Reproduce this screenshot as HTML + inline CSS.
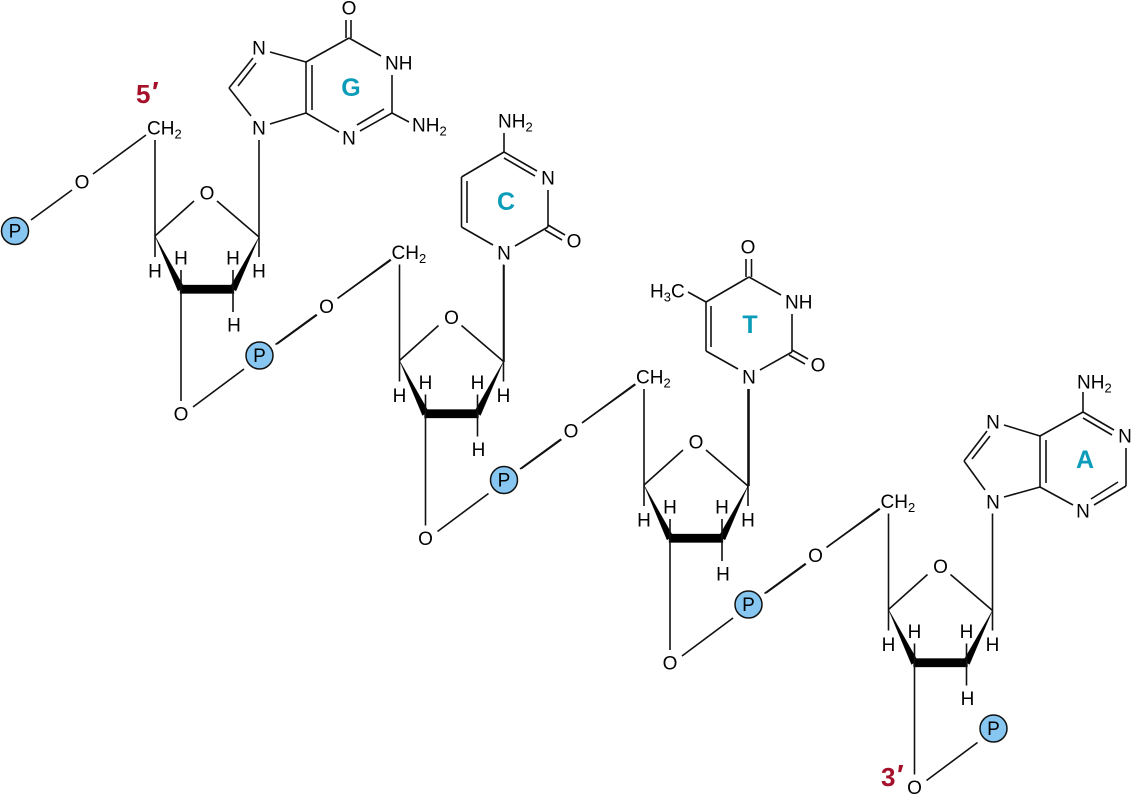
<!DOCTYPE html>
<html><head><meta charset="utf-8"><style>
html,body{margin:0;padding:0;background:#fff;width:1132px;height:796px;overflow:hidden}
svg{display:block}
text{font-family:"Liberation Sans",sans-serif;font-size:19px;fill:#000;text-anchor:middle;transform:translate(0,.6px)}
.s{font-size:13px}
.l{text-anchor:start}
.b{font-weight:bold;font-size:25px;fill:#0a9cb8;transform:none}
.r{font-weight:bold;font-size:26px;fill:#a5102a;transform:none}
line,polyline{stroke:#111;stroke-width:1.6;fill:none}
.w{fill:#000;stroke:#000;stroke-width:.3}
circle{fill:#86c6f0;stroke:#111;stroke-width:1.5}
</style></head><body>
<svg width="1132" height="796" viewBox="0 0 1132 796" xmlns="http://www.w3.org/2000/svg">

<g id="u1">
<line x1="31" y1="220" x2="72" y2="190"/><line x1="93" y1="174" x2="146" y2="135"/>
<line x1="155" y1="140" x2="155" y2="257"/><line x1="155" y1="236" x2="194" y2="201"/><line x1="217" y1="201" x2="259" y2="237"/>
<line x1="259" y1="140" x2="259" y2="257"/>
<polygon class="w" points="155,236 178,291 184,287"/><polygon class="w" points="259,237 230,287 236,291"/>
<rect class="w" x="180" y="285" width="54" height="8.5"/>
<line x1="181" y1="270" x2="181" y2="401"/><line x1="233" y1="270" x2="233" y2="312"/>
<line x1="193" y1="407" x2="244" y2="369"/><line x1="277" y1="344" x2="317" y2="315"/>
<line x1="338" y1="298" x2="391" y2="260"/>
<circle cx="15" cy="231" r="13.5"/>
<text x="15" y="237">P</text><text x="82" y="188">O</text>
<text x="147" y="134" class="l">CH<tspan class="s" dy="4">2</tspan></text>
<text x="207" y="199">O</text>
<text x="155" y="277">H</text><text x="181" y="264">H</text><text x="233" y="264">H</text><text x="259" y="277">H</text><text x="234" y="331">H</text>
<text x="181" y="420">O</text>
</g>

<g id="u2" transform="translate(244.5 124.5)">
<line x1="31" y1="220" x2="72" y2="190"/><line x1="93" y1="174" x2="146" y2="135"/>
<line x1="155" y1="140" x2="155" y2="257"/><line x1="155" y1="236" x2="194" y2="201"/><line x1="217" y1="201" x2="259" y2="237"/>
<line x1="259" y1="140" x2="259" y2="257"/>
<polygon class="w" points="155,236 178,291 184,287"/><polygon class="w" points="259,237 230,287 236,291"/>
<rect class="w" x="180" y="285" width="54" height="8.5"/>
<line x1="181" y1="270" x2="181" y2="401"/><line x1="233" y1="270" x2="233" y2="312"/>
<line x1="193" y1="407" x2="244" y2="369"/><line x1="277" y1="344" x2="317" y2="315"/>
<line x1="338" y1="298" x2="391" y2="260"/>
<circle cx="15" cy="231" r="13.5"/>
<text x="15" y="237">P</text><text x="82" y="188">O</text>
<text x="147" y="134" class="l">CH<tspan class="s" dy="4">2</tspan></text>
<text x="207" y="199">O</text>
<text x="155" y="277">H</text><text x="181" y="264">H</text><text x="233" y="264">H</text><text x="259" y="277">H</text><text x="234" y="331">H</text>
<text x="181" y="420">O</text>
</g>

<g id="u3" transform="translate(489 249)">
<line x1="31" y1="220" x2="72" y2="190"/><line x1="93" y1="174" x2="146" y2="135"/>
<line x1="155" y1="140" x2="155" y2="257"/><line x1="155" y1="236" x2="194" y2="201"/><line x1="217" y1="201" x2="259" y2="237"/>
<line x1="259" y1="140" x2="259" y2="257"/>
<polygon class="w" points="155,236 178,291 184,287"/><polygon class="w" points="259,237 230,287 236,291"/>
<rect class="w" x="180" y="285" width="54" height="8.5"/>
<line x1="181" y1="270" x2="181" y2="401"/><line x1="233" y1="270" x2="233" y2="312"/>
<line x1="193" y1="407" x2="244" y2="369"/><line x1="277" y1="344" x2="317" y2="315"/>
<line x1="338" y1="298" x2="391" y2="260"/>
<circle cx="15" cy="231" r="13.5"/>
<text x="15" y="237">P</text><text x="82" y="188">O</text>
<text x="147" y="134" class="l">CH<tspan class="s" dy="4">2</tspan></text>
<text x="207" y="199">O</text>
<text x="155" y="277">H</text><text x="181" y="264">H</text><text x="233" y="264">H</text><text x="259" y="277">H</text><text x="234" y="331">H</text>
<text x="181" y="420">O</text>
</g>

<g id="u4" transform="translate(733.5 373.5)">
<line x1="31" y1="220" x2="72" y2="190"/><line x1="93" y1="174" x2="146" y2="135"/>
<line x1="155" y1="140" x2="155" y2="257"/><line x1="155" y1="236" x2="194" y2="201"/><line x1="217" y1="201" x2="259" y2="237"/>
<line x1="259" y1="140" x2="259" y2="257"/>
<polygon class="w" points="155,236 178,291 184,287"/><polygon class="w" points="259,237 230,287 236,291"/>
<rect class="w" x="180" y="285" width="54" height="8.5"/>
<line x1="181" y1="270" x2="181" y2="401"/><line x1="233" y1="270" x2="233" y2="312"/>
<line x1="193" y1="407" x2="244" y2="369"/>
<circle cx="15" cy="231" r="13.5"/>
<text x="15" y="237">P</text><text x="82" y="188">O</text>
<text x="147" y="134" class="l">CH<tspan class="s" dy="4">2</tspan></text>
<text x="207" y="199">O</text>
<text x="155" y="277">H</text><text x="181" y="264">H</text><text x="233" y="264">H</text><text x="259" y="277">H</text><text x="234" y="331">H</text>
<text x="181" y="420">O</text>
<circle cx="260" cy="355" r="13.5"/><text x="260" y="361">P</text>
</g>

<!-- Guanine -->
<g>
<line x1="270" y1="124" x2="306" y2="113"/><line x1="306" y1="113" x2="306" y2="62"/><line x1="312" y1="65" x2="312" y2="110"/>
<line x1="306" y1="62" x2="270" y2="52"/><line x1="253" y1="58" x2="229" y2="88"/><line x1="256" y1="63" x2="238" y2="86"/>
<line x1="229" y1="88" x2="251" y2="116"/><line x1="306" y1="62" x2="349" y2="38"/>
<line x1="346" y1="38" x2="346" y2="20"/><line x1="351" y1="38" x2="351" y2="20"/>
<line x1="349" y1="38" x2="381" y2="56"/><line x1="392" y1="75" x2="392" y2="113"/>
<line x1="392" y1="113" x2="360" y2="131"/><line x1="384" y1="109" x2="357" y2="125"/>
<line x1="306" y1="113" x2="339" y2="132"/><line x1="392" y1="113" x2="409" y2="122"/>
<text x="259" y="134">N</text><text x="259" y="54">N</text><text x="349" y="14">O</text>
<text x="385" y="69" class="l">NH</text><text x="349" y="144">N</text>
<text x="412" y="131" class="l">NH<tspan class="s" dy="4">2</tspan></text>
<text x="351" y="96" class="b">G</text>
<text x="136" y="103" class="r l">5<tspan font-size="28" dy="-2" font-style="italic">′</tspan></text>
</g>

<!-- Cytosine -->
<g>
<line x1="504" y1="265" x2="504" y2="362"/>
<line x1="515" y1="246" x2="548" y2="227"/><line x1="548" y1="227" x2="548" y2="190"/>
<line x1="504" y1="152" x2="537" y2="171"/><line x1="504" y1="158" x2="535" y2="176"/>
<line x1="504" y1="152" x2="461.5" y2="177"/><line x1="461.5" y1="177" x2="461.5" y2="227"/><line x1="467" y1="181" x2="467" y2="223"/>
<line x1="461.5" y1="227" x2="493" y2="245"/><line x1="504" y1="133" x2="504" y2="152"/>
<line x1="548" y1="225" x2="565" y2="235"/><line x1="545" y1="230" x2="562" y2="240"/>
<text x="504" y="259">N</text><text x="548" y="184">N</text><text x="574" y="247">O</text>
<text x="498" y="127" class="l">NH<tspan class="s" dy="4">2</tspan></text>
<text x="506" y="210" class="b">C</text>
</g>

<!-- Thymine -->
<g>
<line x1="749" y1="389" x2="749" y2="486"/>
<line x1="760" y1="370" x2="792" y2="352"/><line x1="792" y1="352" x2="792" y2="314"/>
<line x1="749" y1="277" x2="781" y2="295"/><line x1="749" y1="277" x2="706" y2="302"/>
<line x1="746" y1="277" x2="746" y2="259"/><line x1="751.5" y1="277" x2="751.5" y2="259"/>
<line x1="706" y1="302" x2="706" y2="351"/><line x1="711" y1="306" x2="711" y2="347"/>
<line x1="706" y1="351" x2="738" y2="369"/><line x1="688" y1="292" x2="706" y2="302"/>
<line x1="792" y1="350" x2="808" y2="359"/><line x1="789" y1="355" x2="805" y2="364"/>
<text x="749" y="383">N</text><text x="748" y="253">O</text><text x="818" y="371">O</text>
<text x="785" y="308" class="l">NH</text>
<text x="650" y="297" class="l">H<tspan class="s" dy="4">3</tspan><tspan dy="-4">C</tspan></text>
<text x="750" y="333" class="b">T</text>
</g>

<!-- Adenine -->
<g>
<line x1="1004" y1="497" x2="1040" y2="487"/><line x1="1040" y1="487" x2="1040" y2="436"/><line x1="1046" y1="440" x2="1046" y2="483"/>
<line x1="1040" y1="436" x2="1004" y2="425"/><line x1="987" y1="431" x2="964" y2="461"/><line x1="990" y1="436" x2="972" y2="459"/>
<line x1="964" y1="461" x2="985" y2="490"/><line x1="1040" y1="436" x2="1083" y2="412"/>
<line x1="1083" y1="392" x2="1083" y2="412"/><line x1="1083" y1="412" x2="1114" y2="430"/><line x1="1083" y1="418" x2="1112" y2="435"/>
<line x1="1126" y1="448" x2="1126" y2="486"/><line x1="1126" y1="486" x2="1094" y2="505"/><line x1="1118" y1="482" x2="1091" y2="499"/>
<line x1="1040" y1="487" x2="1073" y2="505"/>
<text x="993" y="508">N</text><text x="993" y="428">N</text><text x="1083" y="517">N</text><text x="1125" y="442">N</text>
<text x="1077" y="388" class="l">NH<tspan class="s" dy="4">2</tspan></text>
<text x="1085" y="468" class="b">A</text>
<text x="881" y="786" class="r l">3<tspan font-size="28" dy="-2" font-style="italic">′</tspan></text>
</g>
</svg>
</body></html>
